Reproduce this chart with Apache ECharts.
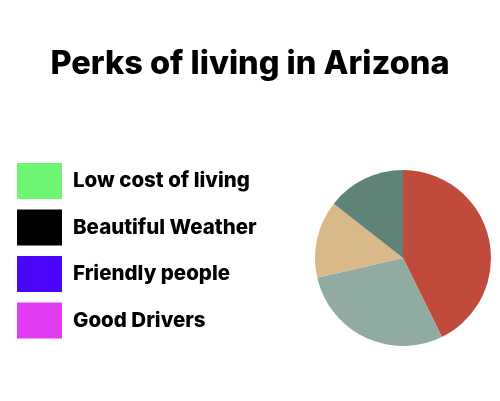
<!DOCTYPE html>
<html>
<head>
<meta charset="utf-8">
<style>html,body{margin:0;padding:0;background:#fff;}#c{width:500px;height:401px;}</style>
<script src="https://cdn.jsdelivr.net/npm/echarts@6/dist/echarts.min.js"></script>
</head>
<body>
<div id="c"></div>
<script>
var title = "Perks of living in Arizona";
var categories = ["Low cost of living", "Beautiful Weather", "Friendly people", "Good Drivers"];
var values = [42.7, 28.7, 14.2, 14.4];
var sliceColors = ["#c04a3c", "#91aba2", "#d9b98a", "#5f8376"];
var legendColors = ["#6ef572", "#000000", "#4a06fb", "#e23cf2"];

var chart = echarts.init(document.getElementById('c'), null, {renderer: 'canvas'});
chart.setOption({
  backgroundColor: '#ffffff',
  animation: false,
  title: {
    text: title,
    left: 'center',
    top: 48,
    padding: 0,
    textStyle: {fontFamily: 'Inter', fontWeight: 800, fontSize: 32.5, color: '#000'}
  },
  legend: {
    orient: 'vertical',
    left: 17,
    top: 163,
    padding: 0,
    itemWidth: 45,
    itemHeight: 36,
    itemGap: 10.5,
    icon: 'rect',
    selectedMode: false,
    textStyle: {fontFamily: 'Inter', fontWeight: 800, fontSize: 20.5, color: '#000', padding: [0, 0, 0, 6]},
    data: categories.map(function (n, i) {
      return {name: n, itemStyle: {color: legendColors[i]}};
    })
  },
  series: [{
    type: 'pie',
    center: [403, 258],
    radius: 88,
    startAngle: 90,
    clockwise: true,
    label: {show: false},
    labelLine: {show: false},
    emphasis: {disabled: true},
    data: categories.map(function (n, i) {
      return {name: n, value: values[i], itemStyle: {color: sliceColors[i]}};
    })
  }]
});
</script>
</body>
</html>
